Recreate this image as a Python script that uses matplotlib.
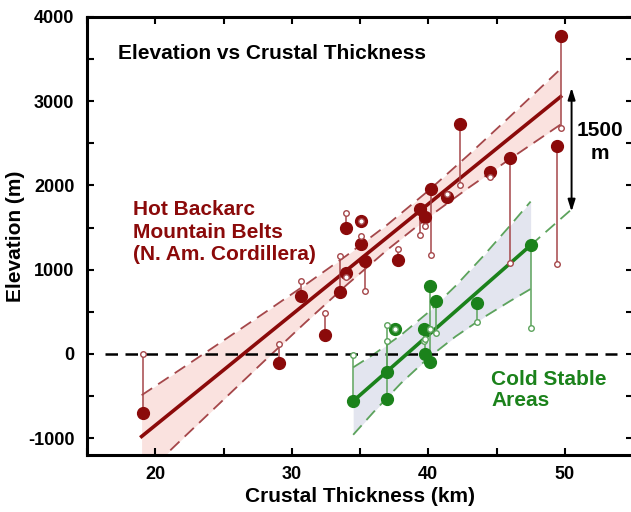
import matplotlib.pyplot as plt
from matplotlib.ticker import MultipleLocator

plt.rcParams['font.family'] = ['Liberation Sans', 'DejaVu Sans']
plt.rcParams['font.weight'] = 'bold'
plt.rcParams['axes.labelweight'] = 'bold'
plt.rcParams['axes.unicode_minus'] = False

# Hot backarc points: thickness (km), elevation (m), corrected elevation (m)
hot_km = [19.1, 29.1, 30.7, 32.4, 33.5, 34.0, 34.0, 35.1, 35.1, 35.4,
          37.8, 39.4, 39.75, 40.2, 41.4, 42.3, 44.5, 46.0, 49.4, 49.7]
hot_elev = [-700, -110, 690, 230, 740, 965, 1500, 1575, 1310, 1100,
            1110, 1720, 1620, 1960, 1860, 2730, 2160, 2330, 2470, 3770]
hot_corr = [0, 120, 860, 490, 1160, 910, 1670, 1575, 1400, 750,
            1250, 1410, 1515, 1180, 1900, 2000, 2100, 1085, 1070, 2685]

# Cold stable points
cold_km = [34.5, 37.0, 36.95, 37.6, 40.1, 40.55, 39.7, 39.75, 40.1, 43.6, 47.5]
cold_elev = [-560, -540, -215, 290, 810, 630, 300, 0, -100, 600, 1290]
cold_corr = [-10, 345, 155, 290, 300, 250, 155, 180, 300, 380, 310]

# Fit lines and confidence bands
hot_fit_km = [19, 22, 25, 28, 31, 34, 37, 40, 43, 46, 49.7]
hot_fit = [-980, -586, -192, 203, 597, 991, 1385, 1779, 2174, 2568, 3054]
hot_upper = [-490, -167, 159, 488, 821, 1166, 1534, 1936, 2370, 2820, 3384]
hot_lower = [-1470, -1005, -543, -82, 373, 816, 1236, 1622, 1978, 2316, 2724]

cold_fit_km = [34.5, 36, 38, 40, 42, 44, 46, 47.5]
cold_fit = [-560, -347, -62, 223, 507, 792, 1076, 1290]
cold_upper = [-160, -5, 224, 493, 807, 1156, 1524, 1809]
cold_lower = [-960, -689, -348, -47, 207, 428, 628, 771]

# cold line extended out to where the gap is measured
cold_ext_km = [47.5, 50.5]
cold_ext = [1290, 1717]
gap_km = 50.5
gap_top = 3160
gap_bottom = 1690

red = '#8b0a0a'
red_light = '#a5474a'
green = '#1b821b'
green_light = '#5ca35c'

fig = plt.figure(figsize=(6.31, 5.12), dpi=100)
ax = fig.add_axes([87 / 631, 57 / 512, 546 / 631, 438 / 512])

# bands
ax.fill_between(hot_fit_km, hot_lower, hot_upper, color='#fae2df', lw=0, zorder=1)
ax.fill_between(cold_fit_km, cold_lower, cold_upper, color='#e3e5ef', lw=0, zorder=1)
ax.plot(hot_fit_km, hot_upper, color=red_light, lw=1.3, dashes=(7, 4), zorder=2)
ax.plot(hot_fit_km, hot_lower, color=red_light, lw=1.3, dashes=(7, 4), zorder=2)
ax.plot(cold_fit_km, cold_upper, color=green_light, lw=1.3, dashes=(7, 4), zorder=2)
ax.plot(cold_fit_km, cold_lower, color=green_light, lw=1.3, dashes=(7, 4), zorder=2)
ax.plot(cold_ext_km, cold_ext, color=green_light, lw=1.3, dashes=(7, 4), zorder=2)

# zero line
ax.axhline(0, xmin=0.033, xmax=0.97, color='black', lw=1.8, dashes=(5, 3), zorder=2)

# fit lines
ax.plot(hot_fit_km, hot_fit, color=red, lw=2.6, zorder=3)
ax.plot(cold_fit_km, cold_fit, color=green, lw=2.6, zorder=3)

# stems
ax.vlines(hot_km, hot_elev, hot_corr, color=red_light, lw=1.1, zorder=4)
ax.vlines(cold_km, cold_elev, cold_corr, color=green_light, lw=1.1, zorder=4)

# points
ax.plot(hot_km, hot_elev, 'o', color=red, ms=8.5, mec=red, zorder=5)
ax.plot(cold_km, cold_elev, 'o', color=green, ms=8.5, mec=green, zorder=5)
ax.plot(hot_km, hot_corr, 'o', mfc='white', mec=red_light, ms=4, mew=1, zorder=6)
ax.plot(cold_km, cold_corr, 'o', mfc='white', mec=green_light, ms=4, mew=1, zorder=6)

# 1500 m arrow
ax.annotate('', xy=(gap_km, gap_top), xytext=(gap_km, gap_bottom),
            arrowprops=dict(arrowstyle='<|-|>,head_length=0.7,head_width=0.22',
                            color='black', lw=1.4, shrinkA=0, shrinkB=0))

ax.text(0.94, 0.715, '1500\nm', transform=ax.transAxes, ha='center', va='center',
        fontsize=15, linespacing=1.25, multialignment='center')
ax.text(0.057, 0.916, 'Elevation vs Crustal Thickness', transform=ax.transAxes,
        ha='left', va='center', fontsize=15)
ax.text(0.084, 0.509, 'Hot Backarc\nMountain Belts\n(N. Am. Cordillera)',
        transform=ax.transAxes, ha='left', va='center', fontsize=15,
        color=red, linespacing=1.25)
ax.text(0.74, 0.148, 'Cold Stable\nAreas', transform=ax.transAxes, ha='left',
        va='center', fontsize=15, color=green, linespacing=1.12)

ax.set_xlim(15, 55)
ax.set_ylim(-1200, 4000)
ax.xaxis.set_major_locator(MultipleLocator(10))
ax.xaxis.set_minor_locator(MultipleLocator(5))
ax.yaxis.set_major_locator(MultipleLocator(1000))
ax.yaxis.set_minor_locator(MultipleLocator(500))
ax.tick_params(which='both', direction='in', top=True, right=True,
               length=5, width=1.5, labelsize=13)
ax.tick_params(axis='x', pad=8)
ax.tick_params(axis='y', pad=9)
for lab in ax.get_xticklabels() + ax.get_yticklabels():
    lab.set_fontweight('bold')
for s in ax.spines.values():
    s.set_linewidth(2.2)

ax.set_xlabel('Crustal Thickness (km)', fontsize=15, labelpad=3)
ax.set_ylabel('Elevation (m)', fontsize=15, labelpad=2)

fig.savefig('out.png', dpi=100)
